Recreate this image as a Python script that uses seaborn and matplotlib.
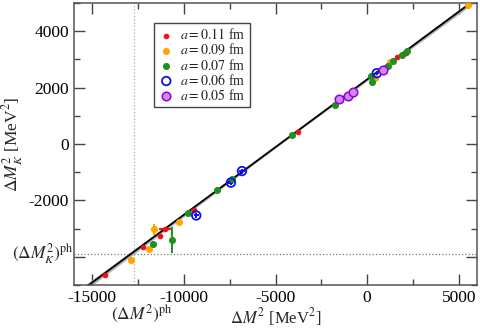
import numpy as np
import pandas as pd
import matplotlib
matplotlib.use("Agg")
import matplotlib.pyplot as plt
import seaborn as sns
from matplotlib.ticker import MultipleLocator, FixedLocator

# ---------------- data ----------------
labels = [r"$a = 0.11$ fm", r"$a = 0.09$ fm", r"$a = 0.07$ fm",
          r"$a = 0.06$ fm", r"$a = 0.05$ fm"]

x_011 = [-14285, -12250, -11290, -11015, -9470, -3800, 1655, 2110]
y_011 = [-4630, -3650, -3255, -3030, -2345, 415, 3080, 3220]
xe_011 = [0, 0, 0, 320, 150, 0, 0, 0]
ye_011 = [0, 0, 0, 60, 40, 0, 0, 0]

x_009 = [-12885, -11900, -11615, -10290, 455, 1220, 5525]
y_009 = [-4120, -3730, -3020, -2760, 2355, 2890, 4940]
xe_009 = [0, 0, 160, 0, 0, 0, 0]
ye_009 = [0, 0, 195, 0, 0, 0, 0]

x_007 = [-11670, -10630, -9780, -8200, -7380, -4106, -1745, 200, 290,
         1160, 1400, 1890, 2200]
y_007 = [-3530, -3410, -2440, -1630, -1250, 330, 1385, 2415, 2190,
         2780, 2925, 3160, 3280]
xe_007 = [0] * 13
ye_007 = [0, 460, 0, 0, 0, 0, 0, 0, 0, 0, 0, 0, 0]

x_006 = [-9325, -7435, -6830, 527]
y_006 = [-2535, -1370, -960, 2510]
xe_006 = [140, 140, 140, 120]
ye_006 = [90, 90, 90, 80]

x_005 = [-1527, -1020, -780, 890]
y_005 = [1600, 1705, 1860, 2630]
xe_005 = [120, 120, 120, 120]
ye_005 = [80, 80, 80, 80]

fit_slope = 0.48
fit_intercept = 2290
phys_x = -12740
phys_y = -3900

xticks = [-15000, -10000, -5000, 0, 5000]
yticks = [-4000, -2000, 0, 2000, 4000]
ytick_labels = ["", "-2000", "0", "2000", "4000"]

# ---------------- style ----------------
sns.set_theme(style="ticks")
plt.rcParams["font.family"] = ["Liberation Serif", "DejaVu Serif"]
plt.rcParams["mathtext.fontset"] = "stix"
plt.rcParams["xtick.direction"] = "in"
plt.rcParams["ytick.direction"] = "in"

fig = plt.figure(figsize=(4.8, 3.31), dpi=100)
ax = fig.add_axes([0.154, 0.139, 0.840, 0.852])

# fit line with band
xs = np.linspace(-16000, 6000, 200)
ys = fit_slope * xs + fit_intercept
hw = 30 + 0.006 * np.abs(xs + 4000)
ax.fill_between(xs, ys - hw, ys + hw, color="#b0b0b0", lw=0, zorder=1)
sns.lineplot(x=xs, y=ys, color="black", lw=1.3, ax=ax, zorder=2)

# dotted physical lines
ax.axvline(phys_x, color="#aaaaaa", ls=":", lw=0.9, zorder=0)
ax.axhline(phys_y, color="#777777", ls=":", lw=0.9, zorder=0)

series = [
    (x_011, y_011, xe_011, ye_011, dict(color="#ee1111", s=12, fc="#ee1111", ec="#ee1111", lw=0.6)),
    (x_009, y_009, xe_009, ye_009, dict(color="#ffa500", s=20, fc="#ffa500", ec="#ffa500", lw=0.6)),
    (x_007, y_007, xe_007, ye_007, dict(color="#1f8f1f", s=20, fc="#1f8f1f", ec="#1f8f1f", lw=0.6)),
    (x_006, y_006, xe_006, ye_006, dict(color="#1010ee", s=38, fc="none", ec="#1010ee", lw=1.3)),
    (x_005, y_005, xe_005, ye_005, dict(color="#9400d3", s=38, fc="#cc88ee", ec="#9400d3", lw=1.1)),
]

for (xv, yv, xe, ye, st), lab in zip(series, labels):
    ax.errorbar(xv, yv, xerr=xe, yerr=ye, fmt="none", ecolor=st["color"],
                elinewidth=1.4, capsize=0, zorder=3)
    df = pd.DataFrame({"x": xv, "y": yv})
    sns.scatterplot(data=df, x="x", y="y", ax=ax, s=st["s"], marker="o",
                    facecolor=st["fc"], edgecolor=st["ec"], linewidth=st["lw"],
                    label=lab, zorder=4)

ax.set_xlim(-16000, 6000)
ax.set_ylim(-5000, 5000)
ax.xaxis.set_major_locator(FixedLocator(xticks))
ax.xaxis.set_minor_locator(MultipleLocator(2500))
ax.yaxis.set_major_locator(FixedLocator(yticks))
ax.set_yticklabels(ytick_labels)
ax.yaxis.set_minor_locator(MultipleLocator(1000))
ax.set_xticklabels([str(t) for t in xticks])
ax.tick_params(which="both", top=True, right=True, colors="#444444",
               labelcolor="black", labelsize=12.5, width=1.0)
ax.tick_params(which="major", length=8)
ax.tick_params(which="minor", length=4)
for sp in ax.spines.values():
    sp.set_color("#555555")
    sp.set_linewidth(1.1)

ax.set_xlabel(r"$\Delta M^2$ [MeV$^2$]", fontsize=12, labelpad=0)
ax.set_ylabel(r"$\Delta M_K^2$ [MeV$^2$]", fontsize=12.5, labelpad=3)

ax.text(0.0, phys_y, r"$(\Delta M_K^2)^{\rm ph}$", fontsize=12.5,
        transform=ax.get_yaxis_transform(), ha="right", va="center")
ax.text(-12300, -0.062, r"$(\Delta M^2)^{\rm ph}$", fontsize=12.5,
        transform=ax.get_xaxis_transform(), ha="center", va="top")

leg = ax.legend(loc="upper left", bbox_to_anchor=(0.198, 0.929), fontsize=10,
                frameon=True, fancybox=False, edgecolor="#444444",
                framealpha=1, labelspacing=0.0, handletextpad=0.4,
                borderpad=0.3, handlelength=1.2, borderaxespad=0)
leg.get_frame().set_linewidth(1.0)

fig.savefig("out.png", dpi=100)
